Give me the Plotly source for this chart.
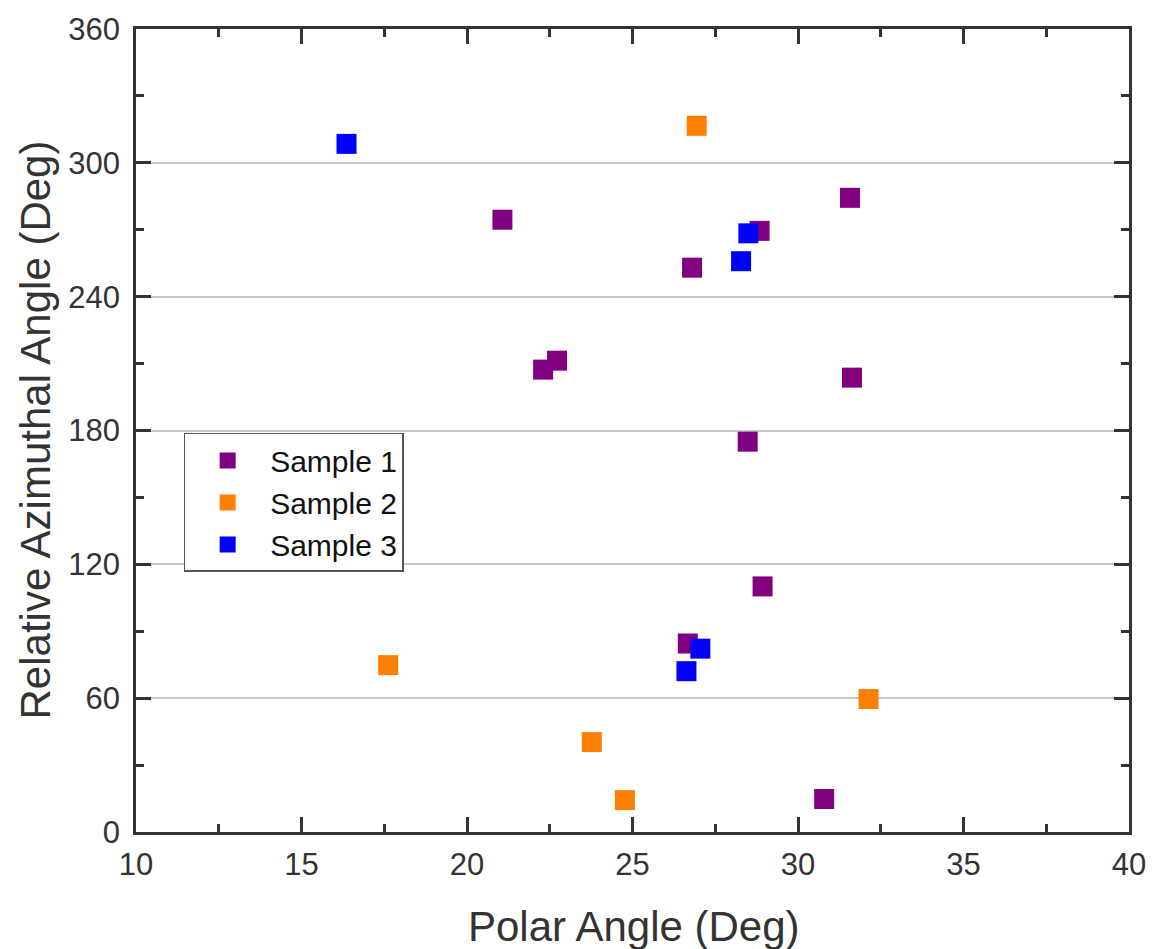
import plotly.graph_objects as go

# Sample measurements: polar angle (deg) vs relative azimuthal angle (deg)
s1_polar = [21.07, 26.8, 28.84, 31.57, 22.3, 22.72, 31.63, 28.48, 28.93, 26.67, 30.79]
s1_azim = [274.5, 253.0, 269.5, 284.3, 207.3, 211.3, 203.7, 175.0, 110.1, 84.5, 14.8]

s2_polar = [26.94, 17.62, 32.13, 23.77, 24.77]
s2_azim = [316.6, 74.8, 59.6, 40.3, 14.3]

s3_polar = [16.36, 28.5, 28.28, 27.05, 26.63]
s3_azim = [308.5, 268.4, 255.9, 82.2, 72.1]

x_ticks = [10, 15, 20, 25, 30, 35, 40]
y_ticks = [0, 60, 120, 180, 240, 300, 360]

series = [
    ("Sample 1", s1_polar, s1_azim, "#800080"),
    ("Sample 2", s2_polar, s2_azim, "#FF7F00"),
    ("Sample 3", s3_polar, s3_azim, "#0000FF"),
]

FONT = "Liberation Sans, Arial, sans-serif"
INK = "#333333"

fig = go.Figure()
for name, xs, ys, color in series:
    fig.add_trace(go.Scatter(
        x=xs, y=ys, mode="markers", name=name,
        marker=dict(symbol="square", size=20, color=color, line=dict(width=0)),
    ))

axis_common = dict(
    showline=True, linecolor=INK, linewidth=2.5, mirror="allticks",
    ticks="inside", ticklen=15, tickwidth=2.5, tickcolor=INK,
    tickfont=dict(family=FONT, size=31, color=INK),
    zeroline=False,
)

fig.update_layout(
    width=1158, height=949,
    margin=dict(l=136, r=22, t=28, b=117),
    paper_bgcolor="white", plot_bgcolor="white",
    font=dict(family=FONT, color=INK),
    xaxis=dict(
        range=[10, 40], tickvals=x_ticks, showgrid=False,
        ticklabelstandoff=3,
        minor=dict(dtick=2.5, ticks="inside", ticklen=8, tickwidth=2.5,
                   tickcolor=INK, showgrid=False),
        **axis_common,
    ),
    yaxis=dict(
        range=[0, 360], tickvals=y_ticks, showgrid=True,
        gridcolor="#c8c8c8", gridwidth=1.5,
        ticklabelstandoff=7,
        minor=dict(dtick=30, ticks="inside", ticklen=8, tickwidth=2.5,
                   tickcolor=INK, showgrid=False),
        **axis_common,
    ),
    legend=dict(
        x=0.048, y=0.497, xanchor="left", yanchor="top",
        bgcolor="white", bordercolor="#555555", borderwidth=1.5,
        font=dict(family=FONT, size=30, color="#111111"),
        itemsizing="trace", itemwidth=75,
    ),
    annotations=[
        dict(text="Polar Angle (Deg)", xref="paper", yref="paper",
             x=0.5015, y=0, yshift=-94, xanchor="center", yanchor="middle",
             showarrow=False, font=dict(family=FONT, size=42, color=INK)),
        dict(text="Relative Azimuthal Angle (Deg)", xref="paper", yref="paper",
             x=0, xshift=-101, y=0.5, textangle=-90,
             xanchor="center", yanchor="middle",
             showarrow=False, font=dict(family=FONT, size=42, color=INK)),
    ],
)

fig.write_html("out.html")
